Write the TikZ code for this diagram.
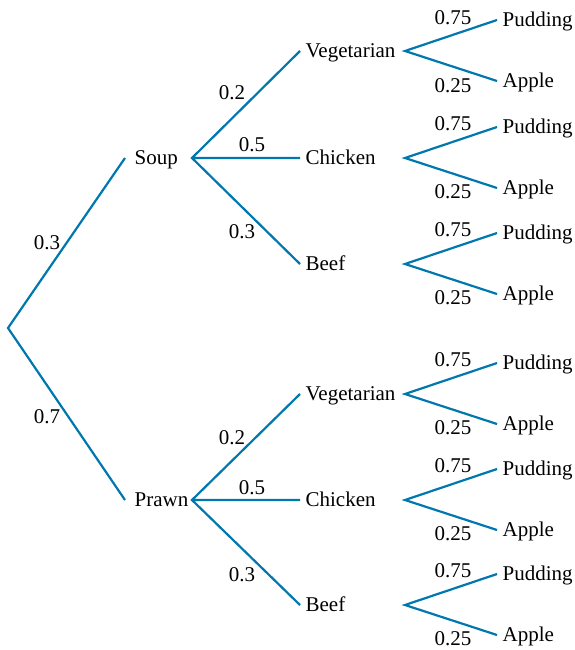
\documentclass[tikz,border=0pt]{standalone}
\usepackage{fontspec}
\setmainfont{Liberation Serif}

\definecolor{branch}{RGB}{0,120,175}

\tikzset{every picture/.style={line width=2.2pt}}
\tikzset{
  item/.style={anchor=west, inner xsep=4.5pt, inner ysep=0pt, text height=13.9pt, text depth=0pt, font=\fontsize{21}{25}\selectfont},
  firstitem/.style={item, inner xsep=8.5pt},
  prob/.style={inner sep=0pt, font=\fontsize{21}{25}\selectfont},
  edge/.style={draw=branch, line width=2.2pt}
}

\begin{document}
\begin{tikzpicture}[x=1pt,y=1pt,yscale=-1,xscale=1]
    \useasboundingbox (0,0) rectangle (575,650);

    % branch points
    \coordinate (root) at (8,328);
    \coordinate (soupR) at (192,158);
    \coordinate (prawnR) at (192,500);
    \coordinate (svegR) at (405,51);
    \coordinate (schickR) at (405,158);
    \coordinate (sbeefR) at (405,264);
    \coordinate (pvegR) at (405,394);
    \coordinate (pchickR) at (405,500);
    \coordinate (pbeefR) at (405,605);

    % Starters
    \node [firstitem] (soup) at (125,158) {Soup};
    \node [firstitem] (prawn) at (125,500) {Prawn};

    % Mains
    \node [item] (sveg) at (300,51) {Vegetarian};
    \node [item] (schick) at (300,158) {Chicken};
    \node [item] (sbeef) at (300,264) {Beef};
    \node [item] (pveg) at (300,394) {Vegetarian};
    \node [item] (pchick) at (300,500) {Chicken};
    \node [item] (pbeef) at (300,605) {Beef};

    % Desserts
    \node [item] (svegP) at (497,20) {Pudding};
    \node [item] (svegA) at (497,81) {Apple};
    \node [item] (schickP) at (497,127) {Pudding};
    \node [item] (schickA) at (497,188) {Apple};
    \node [item] (sbeefP) at (497,233) {Pudding};
    \node [item] (sbeefA) at (497,294) {Apple};
    \node [item] (pvegP) at (497,363) {Pudding};
    \node [item] (pvegA) at (497,424) {Apple};
    \node [item] (pchickP) at (497,469) {Pudding};
    \node [item] (pchickA) at (497,530) {Apple};
    \node [item] (pbeefP) at (497,574) {Pudding};
    \node [item] (pbeefA) at (497,635) {Apple};

    % Straight Lines
    \draw [edge] (soup.west) -- (root) -- (prawn.west);
    \draw [edge] (sveg.west) -- (soupR) -- (sbeef.west) (soupR) -- (schick.west);
    \draw [edge] (pveg.west) -- (prawnR) -- (pbeef.west) (prawnR) -- (pchick.west);
    \draw [edge] (svegP.west) -- (svegR) -- (svegA.west);
    \draw [edge] (schickP.west) -- (schickR) -- (schickA.west);
    \draw [edge] (sbeefP.west) -- (sbeefR) -- (sbeefA.west);
    \draw [edge] (pvegP.west) -- (pvegR) -- (pvegA.west);
    \draw [edge] (pchickP.west) -- (pchickR) -- (pchickA.west);
    \draw [edge] (pbeefP.west) -- (pbeefR) -- (pbeefA.west);

    % Probabilities
    \node [prob] (pSoup) at (47,243) {0.3};
    \node [prob] (pPrawn) at (47,417) {0.7};
    \node [prob] (pSveg) at (232,93) {0.2};
    \node [prob] (pSchick) at (252,145) {0.5};
    \node [prob] (pSbeef) at (242,232) {0.3};
    \node [prob] (pPveg) at (232,438) {0.2};
    \node [prob] (pPchick) at (252,488) {0.5};
    \node [prob] (pPbeef) at (242,575) {0.3};

    \node [prob] (pSvegP) at (453,18) {0.75};
    \node [prob] (pSvegA) at (453,86) {0.25};
    \node [prob] (pSchickP) at (453,124) {0.75};
    \node [prob] (pSchickA) at (453,192) {0.25};
    \node [prob] (pSbeefP) at (453,230) {0.75};
    \node [prob] (pSbeefA) at (453,298) {0.25};
    \node [prob] (pPvegP) at (453,360) {0.75};
    \node [prob] (pPvegA) at (453,428) {0.25};
    \node [prob] (pPchickP) at (453,466) {0.75};
    \node [prob] (pPchickA) at (453,534) {0.25};
    \node [prob] (pPbeefP) at (453,571) {0.75};
    \node [prob] (pPbeefA) at (453,639) {0.25};

\end{tikzpicture}
\end{document}
